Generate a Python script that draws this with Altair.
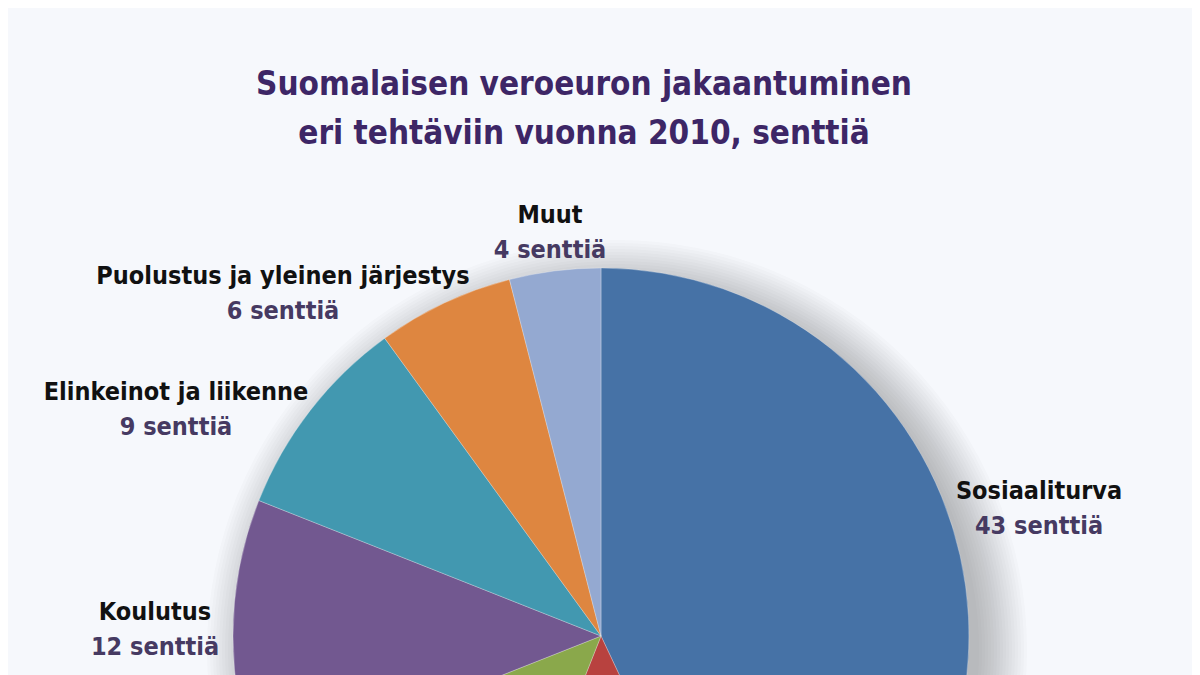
import altair as alt
import pandas as pd

# ---- data (clockwise from 12 o'clock) ----
categories = ["Sosiaaliturva", "Terveydenhuolto", "Yleinen julkishallinto",
              "Koulutus", "Elinkeinot ja liikenne",
              "Puolustus ja yleinen järjestys", "Muut"]
cents = [43, 13, 13, 12, 9, 6, 4]
colors = ["#4672a6", "#b8423f", "#8aa84b", "#725890", "#4298b0", "#de8640", "#94a9d1"]

title_lines = ["Suomalaisen veroeuron jakaantuminen",
               "eri tehtäviin vuonna 2010, senttiä"]

df = pd.DataFrame({"cat": categories, "cents": cents, "idx": list(range(len(categories)))})
df["value_label"] = df["cents"].astype(str) + " senttiä"

# ---- layout (annotation placement, page pixels minus 8px margin) ----
CX, CY, R = 593, 628, 368
label_layout = {
    "Sosiaaliturva": (1031, 483),
    "Koulutus": (147, 604),
    "Elinkeinot ja liikenne": (168, 384),
    "Puolustus ja yleinen järjestys": (275, 268),
    "Muut": (542, 207),
}
lab = df[df["cat"].isin(label_layout)].copy()
lab["lx"] = lab["cat"].map(lambda c: label_layout[c][0])
lab["ly"] = lab["cat"].map(lambda c: label_layout[c][1])
lab["ly2"] = lab["ly"] + 35

FONT = "DejaVu Sans Condensed"
BG = "#f6f8fc"

# soft shadow: stacked translucent discs
shadow_layers = []
for r in range(R - 6, R + 45, 3):
    shadow_layers.append(
        alt.Chart(df.head(1)).mark_arc(radius=r, theta=0, theta2=6.2832,
                                       color="#1a1a2a", opacity=0.018)
        .encode(x=alt.value(CX + 16), y=alt.value(CY + 14))
    )

pie = alt.Chart(df).mark_arc(radius=R, stroke="#ffffff", strokeWidth=0.8,
                             strokeOpacity=0.35).encode(
    theta=alt.Theta("cents:Q", stack=True),
    color=alt.Color("cat:N", scale=alt.Scale(domain=categories, range=colors), legend=None),
    order=alt.Order("idx:Q"),
    x=alt.value(CX), y=alt.value(CY),
)

names = alt.Chart(lab).mark_text(font=FONT, fontSize=25, fontWeight="bold",
                                 color="#111111", baseline="middle", align="center").encode(
    x=alt.X("lx:Q", scale=None), y=alt.Y("ly:Q", scale=None), text="cat:N")
values = alt.Chart(lab).mark_text(font=FONT, fontSize=25, fontWeight="bold",
                                  color="#463a62", baseline="middle", align="center").encode(
    x=alt.X("lx:Q", scale=None), y=alt.Y("ly2:Q", scale=None), text="value_label:N")

tdf = pd.DataFrame({"t": title_lines, "i": [0, 1]})
tdf["ty"] = [77, 126]
title = alt.Chart(tdf).mark_text(font=FONT, fontSize=33, fontWeight="bold",
                                 color="#3d2666", baseline="middle", align="center").encode(
    x=alt.value(576), y=alt.Y("ty:Q", scale=None), text="t:N")

chart = alt.layer(*shadow_layers, pie, names, values, title).properties(
    width=1184, height=1100, background=BG,
    autosize=alt.AutoSizeParams(type="none"), padding=0,
).configure_view(stroke=None)

chart.save("out.html", embed_options={"renderer": "svg", "actions": False})
